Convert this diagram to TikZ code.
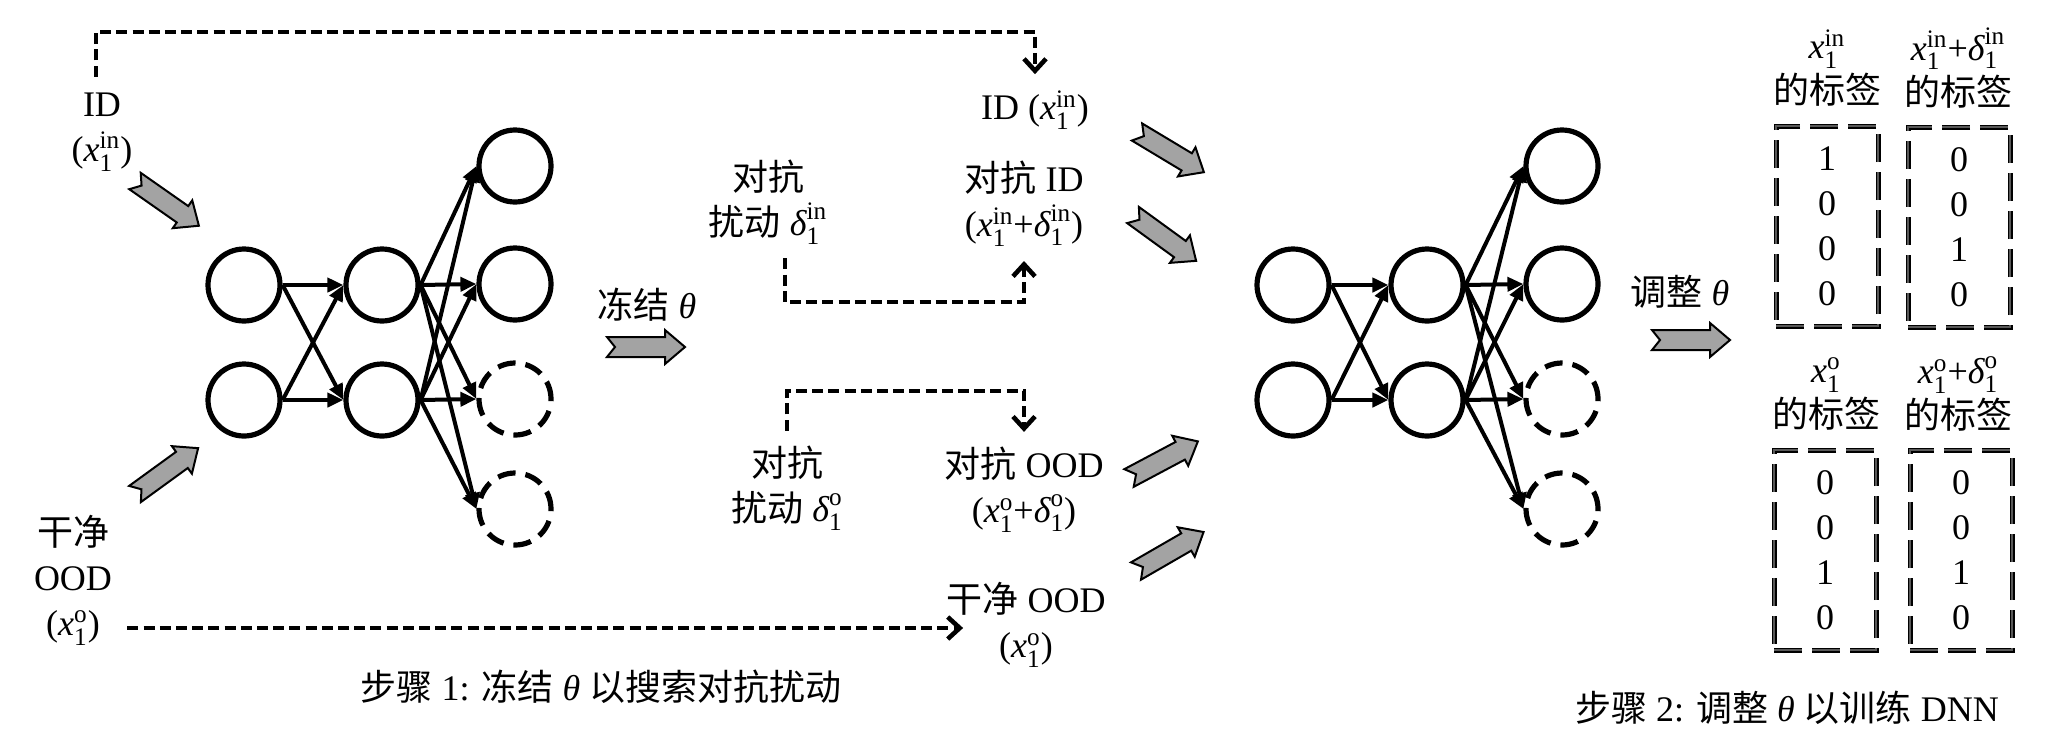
\documentclass[tikz,border=0pt]{standalone}
\usepackage{amsmath}
\usepackage{fontspec}
\setmainfont{Liberation Serif}
\newfontfamily\cjk{Noto Sans CJK SC}
\usepackage{tikz}
\usetikzlibrary{arrows.meta}
\tikzstyle{neuron} = [circle, draw=black, line width=2.6pt, minimum size=36pt, inner sep=0pt]
\tikzstyle{ghost} = [neuron, dash pattern=on 9pt off 5pt]
\tikzstyle{wire} = [line width=2pt, -{Triangle[length=8pt,width=7pt]}]
\tikzstyle{dline} = [line width=2.3pt, dash pattern=on 5.5pt off 2.6pt]
\tikzstyle{darrow} = [dline, -{Straight Barb[length=6pt,width=11pt]}]
\tikzstyle{txt} = [align=center, inner sep=2pt]
\tikzstyle{labbox} = [draw=black, line width=0.9pt, double=black!65, double distance=0.7pt,
dash pattern=on 14pt off 5pt, minimum width=51pt, minimum height=100pt, align=center]
\tikzset{fatarrow/.pic={
\draw[fill=black!36, line width=1pt, line join=miter] (0,10) -- (58,10) -- (58,17) -- (78,0)
  -- (58,-17) -- (58,-10) -- (0,-10) -- (8,0) -- cycle;}}
\newcommand{\xv}{\textit{x}}
\newcommand{\dv}{\textit{δ}}
\newcommand{\tv}{\textit{θ}}
\newcommand{\xin}{$\xv_{\textrm{1}}^{\textrm{in}}$}
\newcommand{\xo}{$\xv_{\textrm{1}}^{\textrm{o}}$}
\newcommand{\dIn}{$\dv_{\textrm{1}}^{\textrm{in}}$}
\newcommand{\dO}{$\dv_{\textrm{1}}^{\textrm{o}}$}

\begin{document}
\begin{tikzpicture}[x=0.5pt, y=-0.5pt, every node/.append style={font=\fontsize{18}{22.5}\selectfont}]
\useasboundingbox (0,0) rectangle (2054,740);
% step 1 network
\node (a1) at (244,285) [neuron] {};
\node (a2) at (244,400) [neuron] {};
\node (b1) at (382,285) [neuron] {};
\node (b2) at (382,400) [neuron] {};
\node (c1) at (515,166) [neuron] {};
\node (c2) at (515,284) [neuron] {};
\node (c3) at (515,399) [ghost] {};
\node (c4) at (515,509) [ghost] {};
\draw[wire] (a1.east) -- (b1.west);
\draw[wire] (a1.east) -- (b2.west);
\draw[wire] (a2.east) -- (b1.west);
\draw[wire] (a2.east) -- (b2.west);
\draw[wire] (b1.east) -- (c1.west);
\draw[wire] (b1.east) -- (c2.west);
\draw[wire] (b1.east) -- (c3.west);
\draw[wire] (b1.east) -- (c4.west);
\draw[wire] (b2.east) -- (c1.west);
\draw[wire] (b2.east) -- (c2.west);
\draw[wire] (b2.east) -- (c3.west);
\draw[wire] (b2.east) -- (c4.west);
% step 1 texts
\node[txt] (idL) at (102,132) {ID\\(\xin)};
\node[txt] (oodL) at (73,580) {{\cjk 干净}\\OOD\\(\xo)};
\node[txt] (frz) at (647,305) {{\cjk 冻结} \tv};
\node[txt] (pertI) at (768,202) {{\cjk 对抗}\\{\cjk 扰动} \dIn};
\node[txt] (idR) at (1035,110) {ID (\xin)};
\node[txt] (advI) at (1024,204) {{\cjk 对抗} ID\\(\xin+\dIn)};
\node[txt] (pertO) at (787,488) {{\cjk 对抗}\\{\cjk 扰动} \dO};
\node[txt] (advO) at (1024,490) {{\cjk 对抗} OOD\\(\xo+\dO)};
\node[txt] (cleanO) at (1026,625) {{\cjk 干净} OOD\\(\xo)};
\node[txt] (cap1) at (601,687) {{\cjk 步骤} 1: {\cjk 冻结} \tv\ {\cjk 以搜索对抗扰动}};
\pic[rotate=-35] at (135,181) {fatarrow};
\pic[rotate=36] at (135,494) {fatarrow};
\pic at (607,347) {fatarrow};
% dashed flows
\coordinate (topY) at (0,32);
\coordinate (midY) at (0,302);
\coordinate (lowY) at (0,391);
\coordinate (botY) at (0,628);
\draw[darrow, shorten <=6pt, shorten >=6pt] ([xshift=-3pt]idL.north) |- (topY -| idR.north) -- (idR.north);
\draw[darrow, shorten <=5pt, shorten >=5pt] ([xshift=8.5pt]pertI.south) |- (midY -| advI.south) -- (advI.south);
\draw[darrow, shorten <=5.5pt, shorten >=5.5pt] (pertO.north) |- (lowY -| advO.north) -- (advO.north);
\draw[darrow, shorten <=5.5pt, shorten >=-10.5pt] (oodL.east |- botY) -- (cleanO.west |- botY);
% step 2 network
\pic[rotate=-31] at (1137,132) {fatarrow};
\pic[rotate=-36] at (1133,215) {fatarrow};
\pic[rotate=28] at (1129,478) {fatarrow};
\pic[rotate=30] at (1136,571) {fatarrow};
\node (p1) at (1293,285) [neuron] {};
\node (p2) at (1293,400) [neuron] {};
\node (q1) at (1427,285) [neuron] {};
\node (q2) at (1427,400) [neuron] {};
\node (r1) at (1562,166) [neuron] {};
\node (r2) at (1562,284) [neuron] {};
\node (r3) at (1562,399) [ghost] {};
\node (r4) at (1562,509) [ghost] {};
\draw[wire] (p1.east) -- (q1.west);
\draw[wire] (p1.east) -- (q2.west);
\draw[wire] (p2.east) -- (q1.west);
\draw[wire] (p2.east) -- (q2.west);
\draw[wire] (q1.east) -- (r1.west);
\draw[wire] (q1.east) -- (r2.west);
\draw[wire] (q1.east) -- (r3.west);
\draw[wire] (q1.east) -- (r4.west);
\draw[wire] (q2.east) -- (r1.west);
\draw[wire] (q2.east) -- (r2.west);
\draw[wire] (q2.east) -- (r3.west);
\draw[wire] (q2.east) -- (r4.west);
% step 2 labels
\node[txt] (tune) at (1680,292) {{\cjk 调整} \tv};
\pic at (1652,340) {fatarrow};
\node[txt] (labA) at (1827,68) {\xin\\{\cjk 的标签}};
\node[txt] (labB) at (1958,68) {\xin+\dIn\\{\cjk 的标签}};
\node[txt] (labC) at (1826,394) {\xo\\{\cjk 的标签}};
\node[txt] (labD) at (1958,394) {\xo+\dO\\{\cjk 的标签}};
\node[labbox] (boxA) at (1827,226) {1\\0\\0\\0};
\node[labbox] (boxB) at (1959,227) {0\\0\\1\\0};
\node[labbox] (boxC) at (1825,550) {0\\0\\1\\0};
\node[labbox] (boxD) at (1961,550) {0\\0\\1\\0};
\node[txt] (cap2) at (1787,708) {{\cjk 步骤} 2: {\cjk 调整} \tv\ {\cjk 以训练} DNN};
\end{tikzpicture}
\end{document}
